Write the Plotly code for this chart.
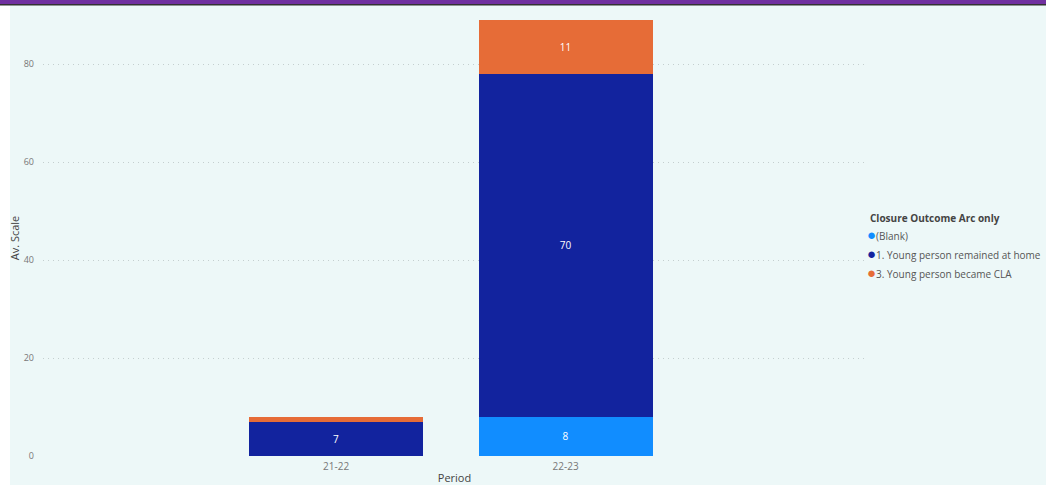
import plotly.graph_objects as go

periods = ["21-22", "22-23"]
blank_vals = [None, 8]
home_vals = [7, 70]
cla_vals = [1, 11]
series_names = ["(Blank)", "1. Young person remained at home", "3. Young person became CLA"]
colors = ["#118DFF", "#12239E", "#E66C37"]
y_ticks = [0, 20, 40, 60, 80]
legend_title = "Closure Outcome Arc only"

W, H = 1046, 485
L, R, T, B = 43, 180, 20, 29
PW, PH = W - L - R, H - T - B


def px_x(p):
    return (p - L) / PW


def px_y(p):
    return (H - B - p) / PH


fig = go.Figure()
for name, vals, col in zip(series_names, [blank_vals, home_vals, cla_vals], colors):
    fig.add_trace(go.Bar(
        x=[0, 1], y=vals, name=name, marker=dict(color=col, line=dict(width=0)),
        width=0.758, text=[("" if v is None else str(v)) for v in vals],
        textposition="inside", insidetextanchor="middle",
        textfont=dict(color="white", size=10, family="Open Sans"),
        showlegend=False, hoverinfo="skip"))
for name, col in zip(series_names, colors):
    fig.add_trace(go.Scatter(
        x=[None], y=[None], mode="markers",
        name=f"<span style='color:{col};font-size:15px'>●</span>{name}",
        marker=dict(color="rgba(0,0,0,0)", size=1, line=dict(width=0)),
        showlegend=True, hoverinfo="skip"))

fig.update_layout(
    width=W, height=H, barmode="stack",
    margin=dict(l=L, r=R, t=T, b=B, autoexpand=False),
    paper_bgcolor="#EDF8F8", plot_bgcolor="#EDF8F8",
    font=dict(family="Open Sans", color="#666666", size=10),
    uniformtext=dict(minsize=9, mode="hide"),
    legend=dict(
        traceorder="normal",
        x=px_x(827), xanchor="left", y=px_y(222), yanchor="top",
        font=dict(size=10, color="#555555"), bgcolor="rgba(0,0,0,0)",
        itemwidth=30, tracegroupgap=0),
    annotations=[dict(
        text=f"<b>{legend_title}</b>", xref="paper", yref="paper",
        x=px_x(868), y=px_y(218), xanchor="left", yanchor="middle",
        showarrow=False, font=dict(size=10, color="#444444"))],
    xaxis=dict(
        range=[-1.277, 2.309], tickmode="array", tickvals=[0, 1], ticktext=periods,
        showgrid=False, zeroline=False, showline=False, ticks="",
        tickfont=dict(size=10, color="#777777"), ticklabelstandoff=3,
        title=dict(text="Period", font=dict(size=11, color="#444444"), standoff=4)),
    yaxis=dict(
        range=[0, 89], tickvals=y_ticks, showgrid=True, gridcolor="#C4CFCF",
        griddash="1px,4px", gridwidth=1, zeroline=False, showline=False, ticks="",
        tickfont=dict(size=9, color="#777777"), ticklabelstandoff=8,
        title=dict(text="Av. Scale", font=dict(size=11, color="#444444"), standoff=1)),
    shapes=[
        dict(type="rect", xref="paper", yref="paper",
             x0=px_x(-5), x1=px_x(10), y0=-1, y1=2,
             fillcolor="white", line=dict(width=0), layer="below"),
        dict(type="rect", xref="paper", yref="paper",
             x0=px_x(-5), x1=px_x(W + 5), y0=px_y(4), y1=px_y(-5),
             fillcolor="#7030A0", line=dict(width=0)),
        dict(type="rect", xref="paper", yref="paper",
             x0=px_x(-5), x1=px_x(W + 5), y0=px_y(5.5), y1=px_y(4),
             fillcolor="#333333", line=dict(width=0)),
    ],
)

fig.write_html("out.html", config={"displayModeBar": False},
               post_script="document.body.style.margin='0';")
